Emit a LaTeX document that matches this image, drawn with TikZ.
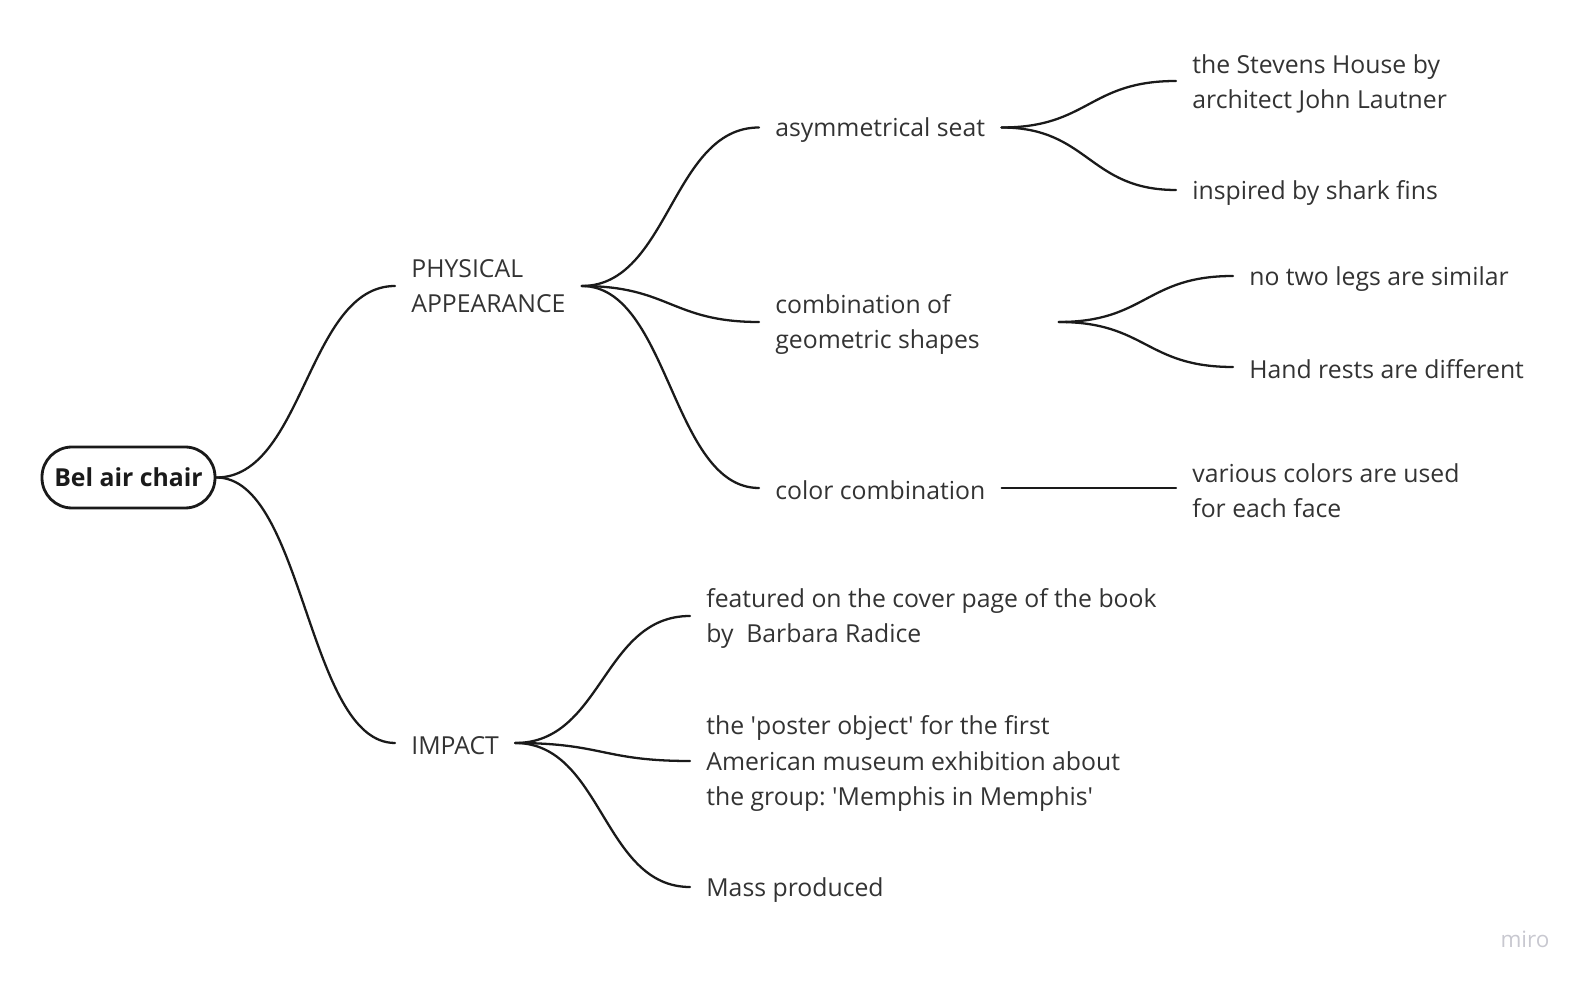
\documentclass[tikz,border=0pt]{standalone}
\usepackage{fontspec}
\setmainfont{Open Sans}
\usepackage{tikz}
\usetikzlibrary{positioning, calc}

\definecolor{inkline}{HTML}{1A1A1A}
\definecolor{inktext}{HTML}{333333}
\definecolor{mirogray}{HTML}{C8C8D0}

\newcommand{\sq}{\textquotesingle}
\newcommand{\tstrut}{\rule{0pt}{0.48cm}}
\frenchspacing

\begin{document}
\begin{tikzpicture}[
  topic/.style={anchor=west, inner xsep=0.32cm, inner ysep=0pt, align=flush left,
    text=inktext, font=\fontsize{14.1}{20.1}\selectfont,
    execute at begin node={\tstrut}},
  rootbox/.style={draw=inkline, line width=1.6pt, rounded corners=0.6cm,
    minimum width=3.46cm, minimum height=1.22cm, inner sep=0pt,
    text=inkline, font=\fontsize{14.1}{20.1}\selectfont\bfseries},
  branch/.style={draw=inkline, line width=1.3pt, line cap=round}
]

% --- Page frame ---
\useasboundingbox (0, 0) rectangle (31.74, 19.68);

% --- Root ---
\node[rootbox] (root) at (2.57, 10.13) {Bel air chair};

% --- Main branches ---
\node[topic] (phys) at (7.9, 13.96) {PHYSICAL\\APPEARANCE};
\node[topic] (impact) at (7.9, 4.82) {IMPACT};

% --- Physical appearance ---
\node[topic] (asym) at (15.18, 17.13) {asymmetrical seat};
\node[topic, text width=5.34cm] (comb) at (15.18, 13.24)
  {\tstrut combination of\\geometric shapes};
\node[topic] (color) at (15.18, 9.92) {color combination};

\node[topic] (stevens) at (23.52, 18.06) {\tstrut the Stevens House by\\architect John Lautner};
\node[topic] (shark) at (23.52, 15.88) {inspired by shark fins};
\node[topic] (legs) at (24.66, 14.16) {no two legs are similar};
\node[topic] (hands) at (24.66, 12.34) {Hand rests are different};
\node[topic] (faces) at (23.52, 9.92) {\tstrut various colors are used\\for each face};

% --- Impact ---
\node[topic] (cover) at (13.8, 7.36)
  {\tstrut featured on the cover page of the book\\by \ Barbara Radice};
\node[topic] (poster) at (13.8, 4.46)
  {\tstrut the \sq poster object\sq{} for the first\\American museum exhibition about\\the group: \sq Memphis in Memphis\sq};
\node[topic] (mass) at (13.8, 1.94) {Mass produced};

% --- Connectors ---
\foreach \a/\b in {root/phys, root/impact, phys/asym, phys/comb, phys/color,
    asym/stevens, asym/shark, comb/legs, comb/hands, color/faces,
    impact/cover, impact/poster, impact/mass} {
  \draw[branch] (\a.east) .. controls +(1.75, 0) and +(-1.75, 0) .. (\b.west);
}

% --- Watermark ---
\node[text=mirogray, font=\fontsize{12.8}{15}\selectfont] (miro) at (30.5, 0.9) {miro};

\end{tikzpicture}
\end{document}
